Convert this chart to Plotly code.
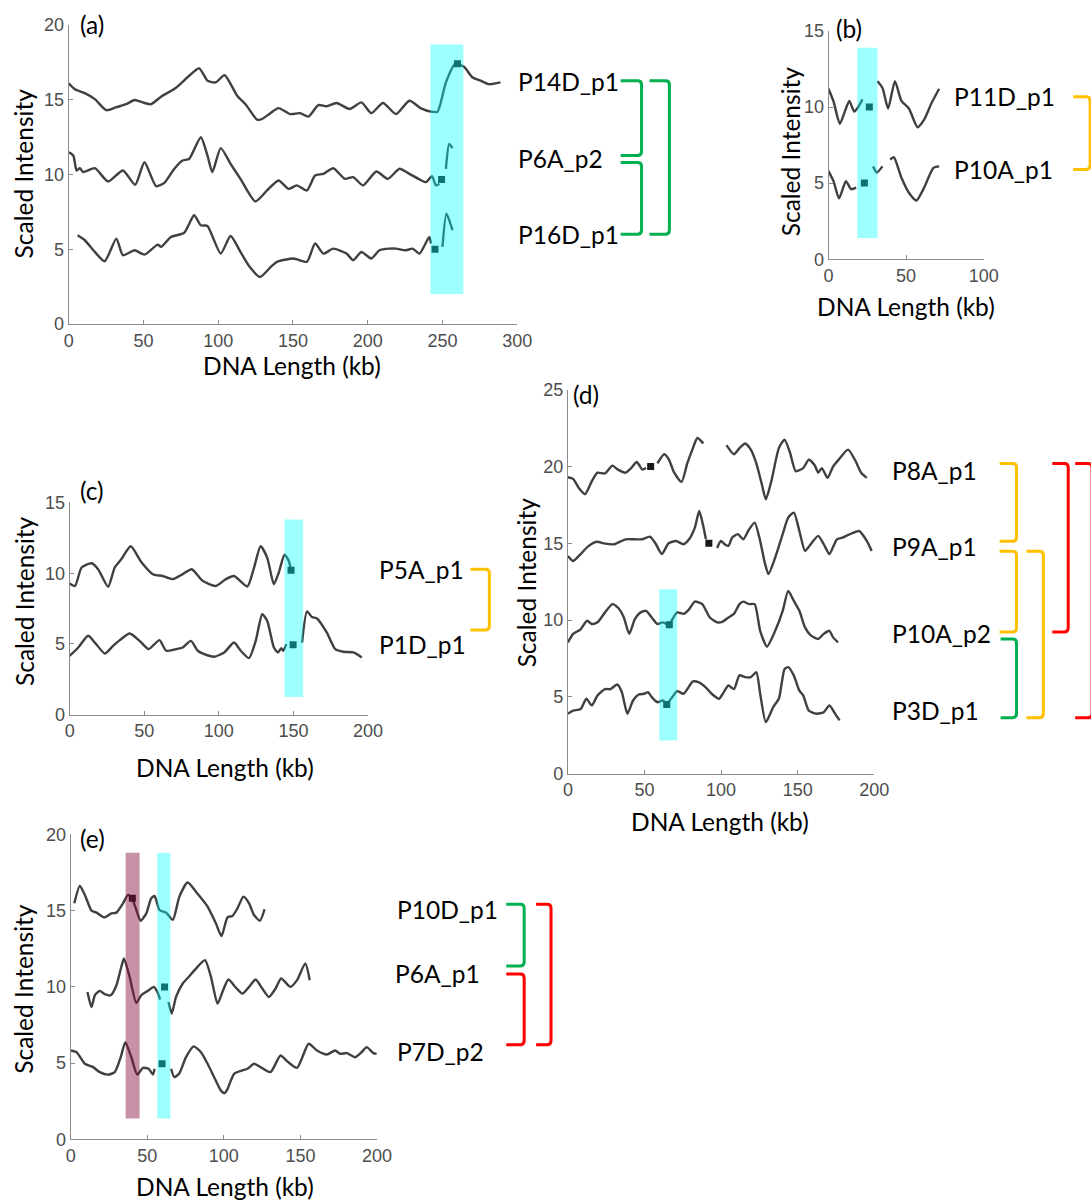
import plotly.graph_objects as go

W, H = 1091, 1202
# the photographed page comes out slightly shrunk and shifted; positions below are
# given in reference-image pixels and converted through this measured mapping
OX, SX = 3.0, 0.987
OY, SY = 8.0, 0.9865

# ------------------------------------------------------------------ data
# Panel (a)
a_x_P14D = [0, 4.2, 10.8, 17.5, 25.2, 31.9, 38.5, 44.1, 50.7, 55.1, 61.8, 71.8, 80.6, 87.3, 92.9, 98.4, 104.3,
            112.7, 118.3, 126, 129.4, 134.9, 140.4, 148.2, 154.8, 160.4, 167, 172.5, 179.2, 188, 195.8, 202.4,
            210.2, 219, 227.9, 235.7, 242.3, 246.7, 252.3, 258.5, 264.4, 270, 275.5, 281, 288.8]
a_y_P14D = [16.1, 15.7, 15.44, 15.04, 14.3, 14.5, 14.7, 14.98, 14.78, 14.7, 15.2, 15.8, 16.6, 17.1, 16.27, 16.16,
            16.64, 15.27, 14.7, 13.67, 13.71, 14.1, 14.44, 14.04, 14.1, 13.87, 14.64, 14.56, 14.78, 14.38, 14.82,
            14.1, 14.78, 14.04, 14.93, 14.42, 14.2, 14.2, 16.16, 17.4, 17.2, 16.5, 16.27, 16.04, 16.16]
a_x_P6A = [0, 3.1, 5.3, 7.5, 9.7, 17.5, 26.4, 36.3, 44.5, 50.7, 58.5, 64, 70.7, 76.2, 80.6, 88.4, 92.8, 96.1,
           101.7, 108.3, 114.9, 124.9, 132.7, 140.4, 147.1, 152.6, 159.3, 164.8, 170.4, 177, 184.7, 190.3, 196.9,
           205.8, 213.5, 221.3, 227.9, 234.6, 239, 243, 245.6, 247.9, None, 252.3, 254.5, 256.7]
a_y_P6A = [11.49, 11.27, 10.27, 10.42, 10.16, 10.42, 9.53, 10.27, 9.31, 10.82, 9.22, 9.44, 10.38, 10.93, 11.04,
           12.49, 11.27, 10.16, 11.76, 10.71, 9.71, 8.2, 8.93, 9.6, 9.04, 9.27, 8.93, 9.93, 10.04, 10.42, 9.71,
           9.82, 9.27, 10.2, 9.71, 10.38, 10.04, 9.67, 9.49, 9.89, 9.27, 9.38, None, 10.38, 12.04, 11.76]
a_x_P16D = [6, 10.8, 17.5, 24.1, 31.9, 36.3, 44.1, 50.7, 59.6, 61.8, 68.4, 77.3, 83.9, 88.4, 92.8, 101.7, 108.3,
            114.9, 120.5, 128, 136, 139.3, 150.4, 159.3, 164.8, 170.4, 177, 185.8, 190.3, 195.8, 202.4, 207.9,
            214.5, 219, 225.6, 230, 234.6, 241.2, 242.3, None, 250, 252.7, 256.7]
a_y_P16D = [5.93, 5.6, 4.82, 4.2, 5.71, 4.6, 4.93, 4.64, 5.31, 5.16, 5.82, 6.1, 7.27, 6.6, 6.56, 4.71, 5.89, 4.82,
            3.9, 3.15, 3.9, 4.16, 4.38, 4.16, 5.38, 4.71, 5.04, 4.71, 4.27, 4.82, 4.38, 4.93, 5.04, 5.04, 4.93,
            5.04, 4.71, 5.82, 5.38, None, 5.16, 7.38, 6.27]
a_mark_x = [260, 249.4, 245]
a_mark_y = [17.4, 9.67, 5.0]
a_band = [242, 264, 2.0, 18.7]

# Panel (b)
b_x_P11D = [0, 3.2, 7.3, 10.5, 13.4, 16.5, 18.5, 21.9, None, 31.6, 34.8, 38.4, 42.8, 47, 51.8, 57.4, 61.6, 66.4, 71.3]
b_y_P11D = [11.2, 10.37, 8.9, 9.7, 10.4, 9.7, 9.9, 10.5, None, 11.7, 11.25, 9.9, 11.7, 10.4, 9.9, 8.67, 9.17, 10.26, 11.2]
b_x_P10A = [0, 3.2, 6.8, 11.2, 14.6, 17.8, None, 28.7, 31.1, 34.8, None, 39.7, 42.1, 47, 51.8, 56.7, 61.6, 67.6, 71.3]
b_y_P10A = [5.79, 5.13, 4.0, 5.13, 4.6, 4.7, None, 6.1, 5.7, 6.1, None, 6.55, 6.7, 5.35, 4.37, 3.86, 4.7, 6.0, 6.1]
b_mark_x = [26.3, 23.1]
b_mark_y = [10.0, 5.0]
b_band = [18.5, 31.6, 1.4, 13.9]

# Panel (c)
c_x_P5A = [0, 3.6, 8, 14.7, 19.1, 25.8, 30.2, 34.7, 40.9, 48, 55.8, 62.4, 69.1, 75.8, 81.8, 89.1, 98, 104.7,
           110.2, 119.1, 123.6, 128, 132.4, 136.9, 140.2, 144, 146.9, 148.4]
c_y_P5A = [9.27, 9.1, 10.4, 10.7, 10.28, 9.04, 10.4, 11.0, 11.9, 10.8, 9.93, 9.8, 9.58, 9.93, 10.28, 9.46, 9.1,
           9.58, 9.8, 9.06, 10.4, 11.9, 11.1, 9.22, 10.05, 11.3, 10.87, 10.2]
c_x_P1D = [0, 5.8, 12.4, 16.9, 23.6, 29.1, 33.6, 40.2, 46.9, 52.9, 60.2, 64.7, 71.3, 75.8, 81.3, 85.8, 90.2, 96.9,
           103.6, 110.2, 114.7, 120.2, 124.7, 129.1, 132.4, 136.9, 139.6, 141.8, 143.1, 145.3, None, 155.8, 159.1,
           162.4, 165.8, 172.4, 178, 183.6, 190.2, 195.8]
c_y_P1D = [4.16, 4.75, 5.58, 5.1, 4.33, 4.87, 5.27, 5.74, 5.22, 4.64, 5.27, 4.52, 4.64, 4.75, 5.22, 4.52, 4.28,
           4.1, 4.4, 5.1, 4.52, 4.0, 5.22, 7.1, 6.64, 4.75, 4.4, 4.7, 4.52, 4.99, None, 5.1, 7.3, 6.9, 6.8, 5.8,
           4.64, 4.45, 4.4, 4.05]
c_mark_x = [148.4, 149.8]
c_mark_y = [10.2, 4.94]
c_band = [144, 156.5, 1.25, 13.8]

# Panel (d)
d_x_P8A = [0, 3.4, 7.1, 11.2, 15.6, 19.3, 24.2, 29, 32.7, 37.6, 41.3, 44.9, 48.6, 51, None, 58.4, 62.8, 65.7,
           69.4, 74.2, 77.9, 81.6, 84.5, 88.4, None, 103.5, 108.4, 112, 115.7, 119.4, 123, 126.7, 129.2, 132.8,
           137.7, 141.4, 145, 148.7, 153.6, 157.3, 161, 163.4, 165.8, 169.5, 173.1, 176.8, 182.9, 187.8, 191.4,
           195.1]
d_y_P8A = [19.3, 19.2, 18.6, 18.2, 19.05, 19.6, 19.55, 20.06, 19.8, 19.6, 19.9, 20.3, 19.8, 19.9, None, 20.2,
           20.8, 20.5, 19.6, 19.0, 20.2, 21.2, 21.86, 21.5, None, 21.4, 20.8, 21.2, 21.5, 21.1, 20.2, 18.8, 17.86,
           19.05, 21.2, 21.75, 20.9, 19.7, 19.9, 20.45, 20.1, 19.6, 19.9, 19.26, 20.0, 20.45, 21.1, 20.35, 19.6,
           19.26]
d_x_P9A = [0, 3.4, 8.3, 13.2, 18.6, 24.2, 30.3, 37.6, 43.7, 48.6, 53.5, 57.1, 61.3, 65.7, 70.6, 75.5, 79.1,
           82.8, 85.7, 88.4, 90.1, None, 97.4, 99.9, 102.3, 104.8, 107.2, 110.9, 114.5, 118.2, 121.9, 125.5,
           128.5, 130.9, 135.3, 140.2, 143.8, 147.5, 151.1, 154.8, 158.5, 163.4, 167, 170.7, 175.6, 179.2,
           184.1, 190.2, 195.1, 198.3]
d_y_P9A = [14.18, 13.85, 14.3, 14.8, 15.1, 14.98, 14.94, 15.26, 15.26, 15.26, 15.43, 15.0, 14.3, 15.0, 15.15,
           14.94, 15.26, 16.0, 17.1, 16.1, 15.26, None, 14.7, 15.15, 14.94, 14.83, 15.37, 15.6, 15.26, 15.9,
           16.35, 15.15, 13.74, 13.0, 14.07, 15.6, 16.67, 17.0, 15.8, 14.5, 14.94, 15.48, 14.94, 14.3, 15.26,
           15.37, 15.6, 15.8, 15.15, 14.5]
d_x_P10A = [0, 3.4, 8.3, 12.5, 15.6, 19.3, 24.2, 29, 32.7, 36.4, 40, 43.7, 47.4, 51, 54.7, 58.4, 62, 65.7,
            71.3, 75.5, 79.1, 82.8, 87.7, 92.6, 97.4, 101.1, 104.8, 108.4, 112, 114.5, 118.2, 121.9, 125.5,
            129.9, 135.3, 140.2, 143.8, 147.5, 151.1, 154.8, 158.5, 163.4, 167, 170.7, 173.1, 176.3]
d_y_P10A = [8.55, 9.1, 9.4, 9.96, 9.74, 9.85, 10.5, 11.04, 10.8, 10.2, 9.1, 10.06, 10.5, 10.6, 10.17, 9.74,
            9.85, 9.7, 10.5, 10.4, 10.7, 11.2, 11.04, 10.17, 9.85, 9.9, 10.17, 10.4, 11.04, 11.2, 11.04, 11.04,
            9.3, 8.27, 9.3, 10.6, 11.9, 11.25, 10.6, 9.52, 9.0, 8.77, 9.1, 9.3, 8.87, 8.55]
d_x_P3D = [0, 3.4, 8.3, 12, 15.6, 19.3, 24.2, 27.8, 32.2, 35.2, 38.8, 42.5, 46.2, 49.8, 52.3, 54.7, 58.4, 62,
           64.5, 68.1, 71.3, 75.5, 81.6, 85.2, 90.1, 93.8, 98.7, 101.1, 104.8, 108.4, 112, 115.7, 119.4, 123,
           125.5, 129.2, 134, 137.7, 141.4, 143.8, 147.5, 151.1, 153.6, 157.3, 162.2, 167, 170.7, 174.4, 177.3]
d_y_P3D = [3.9, 4.1, 4.2, 4.87, 4.44, 5.09, 5.5, 5.5, 5.8, 5.3, 3.9, 4.76, 5.15, 5.2, 5.3, 4.98, 4.65, 4.76,
           4.55, 4.98, 5.37, 5.2, 6.0, 5.95, 5.6, 5.2, 4.87, 5.2, 5.74, 5.5, 6.4, 6.28, 6.28, 6.6, 5.2, 3.35,
           4.33, 4.87, 6.8, 6.93, 6.38, 5.4, 5.09, 4.1, 3.9, 4.0, 4.44, 3.9, 3.46]
d_mark_x = [54, 92, 66.2, 64.5]
d_mark_y = [20.0, 15.0, 9.7, 4.5]
d_band = [59.6, 71.3, 2.16, 12.0]

# Panel (e)
e_x_P10D = [2.4, 6, 9.3, 13.6, 16.9, 21.9, 26.6, 29.9, 34.2, 37.4, 40, 42.9, 45.7, 49.4, 52.6, 54.8, 58, 62.3,
            66.7, 71, 76.4, 82.9, 89.4, 94.8, 98.5, 102.4, 105.6, 108.9, 112.8, 116.5, 119.7, 123.6, 126.6]
e_y_P10D = [15.48, 16.62, 16.03, 15.0, 14.87, 14.56, 14.82, 14.87, 15.48, 16.03, 15.81, 15.04, 14.34, 14.82,
            15.81, 15.96, 15.04, 14.87, 14.39, 15.92, 16.84, 16.1, 15.26, 14.17, 13.33, 14.56, 14.65, 15.15,
            15.92, 15.48, 14.71, 14.34, 15.09]
e_x_P6A = [11, 13.6, 15.8, 19, 22.3, 26.2, 29.9, 33.1, 34.8, 38.5, 42.9, 46.1, 50.4, 54.3, 56.9, 58.4, None,
           63.9, 66, 68.8, 73.2, 77.5, 81.8, 87.7, 91.6, 95.9, 99.1, 103, 107.8, 112.1, 116.5, 120.8, 125.1,
           129.4, 133.8, 137.4, 143.5, 147.8, 153.2, 156.1]
e_y_P6A = [9.67, 8.68, 9.45, 9.74, 9.52, 9.45, 10.11, 11.32, 11.86, 10.66, 8.95, 9.45, 9.74, 10.0, 9.6, 9.17,
           None, 9.01, 8.25, 9.34, 10.22, 10.7, 11.2, 11.75, 10.66, 8.9, 9.67, 10.48, 9.96, 9.56, 10.0, 10.48,
           9.89, 9.34, 9.89, 10.55, 10.0, 10.44, 11.54, 10.44]
e_x_P7D = [0, 3.9, 9.3, 14.7, 19, 24.5, 28.8, 32.7, 35.7, 39.6, 43.5, 47.2, 50.9, 53.7, 54.8, None, 65.6, 67.7,
           71, 75.3, 80.3, 85.1, 89.4, 93.7, 98.1, 100.5, 102.4, 106.7, 112.1, 115.4, 119.7, 124, 130.5, 137,
           141.3, 147.8, 155.4, 160.8, 167.3, 172.7, 176, 180.3, 185.8, 190, 193.3, 197.6, 199.8]
e_y_P7D = [5.83, 5.72, 4.96, 4.74, 4.41, 4.25, 4.41, 5.39, 6.38, 5.39, 4.25, 4.69, 4.63, 4.25, 4.63, None, 4.63,
           4.08, 4.34, 5.39, 6.1, 5.72, 4.96, 4.08, 3.2, 3.04, 3.3, 4.3, 4.52, 4.63, 4.96, 4.74, 4.41, 5.5, 5.13,
           4.69, 6.27, 5.83, 5.57, 5.83, 5.61, 5.66, 5.39, 5.72, 6.05, 5.66, 5.61]
e_mark_x = [40.3, 61.3, 59.7]
e_mark_y = [15.81, 10.0, 4.96]
e_band_maroon = [35.9, 45.0, 1.37, 18.8]
e_band_cyan = [56.5, 65.1, 1.37, 18.8]

# tick values
a_xticks = [0, 50, 100, 150, 200, 250, 300]
a_yticks = [0, 5, 10, 15, 20]
b_xticks = [0, 50, 100]
b_yticks = [0, 5, 10, 15]
c_xticks = [0, 50, 100, 150, 200]
c_yticks = [0, 5, 10, 15]
d_xticks = [0, 50, 100, 150, 200]
d_yticks = [0, 5, 10, 15, 20, 25]
e_xticks = [0, 50, 100, 150, 200]
e_yticks = [0, 5, 10, 15, 20]

# ------------------------------------------------------------------ helpers
def PX(x):
    return ((x - OX) / SX) / W


def PY(y):
    return 1 - ((y - OY) / SY) / H


LINE = dict(color="#404040", width=2.4)
MARK = dict(symbol="square", size=7, color="#1a1a1a")
CYAN = "rgba(0,255,255,0.38)"
MAROON = "rgba(130,10,60,0.45)"
TXT = "Lato"
TXT_SIZE = 24.5

fig = go.Figure()

panels = [
    ("", (67, 518, 23, 323), [0, 300], [0, 20], a_xticks, a_yticks,
     [(a_x_P14D, a_y_P14D), (a_x_P6A, a_y_P6A), (a_x_P16D, a_y_P16D)], (a_mark_x, a_mark_y),
     [(a_band, CYAN)]),
    ("2", (831, 987, 29, 258), [0, 100], [0, 15], b_xticks, b_yticks,
     [(b_x_P11D, b_y_P11D), (b_x_P10A, b_y_P10A)], (b_mark_x, b_mark_y), [(b_band, CYAN)]),
    ("3", (68, 368, 502, 715), [0, 200], [0, 15], c_xticks, c_yticks,
     [(c_x_P5A, c_y_P5A), (c_x_P1D, c_y_P1D)], (c_mark_x, c_mark_y), [(c_band, CYAN)]),
    ("4", (569, 877, 389, 774), [0, 200], [0, 25], d_xticks, d_yticks,
     [(d_x_P8A, d_y_P8A), (d_x_P9A, d_y_P9A), (d_x_P10A, d_y_P10A), (d_x_P3D, d_y_P3D)],
     (d_mark_x, d_mark_y), [(d_band, CYAN)]),
    ("5", (69, 377, 835, 1141), [0, 200], [0, 20], e_xticks, e_yticks,
     [(e_x_P10D, e_y_P10D), (e_x_P6A, e_y_P6A), (e_x_P7D, e_y_P7D)], (e_mark_x, e_mark_y),
     [(e_band_maroon, MAROON), (e_band_cyan, CYAN)]),
]

shapes = []
layout_axes = {}
for suf, (x0, x1, yt, yb), xr, yr, xt, yt_, series, (mx, my), bands in panels:
    xa, ya = "x" + suf, "y" + suf
    for sx, sy in series:
        fig.add_trace(go.Scatter(x=sx, y=sy, mode="lines", line=dict(**LINE, shape="spline", smoothing=0.6),
                                 connectgaps=False, xaxis=xa, yaxis=ya, showlegend=False, hoverinfo="skip"))
    fig.add_trace(go.Scatter(x=mx, y=my, mode="markers", marker=MARK, xaxis=xa, yaxis=ya,
                             showlegend=False, hoverinfo="skip"))
    for (bx0, bx1, by0, by1), col in bands:
        shapes.append(dict(type="rect", xref=xa, yref=ya, x0=bx0, x1=bx1, y0=by0, y1=by1,
                           fillcolor=col, line=dict(width=0), layer="above"))
    axcommon = dict(showline=True, linecolor="#8c8c8c", linewidth=1, ticks="inside", ticklen=4,
                    tickcolor="#8c8c8c", showgrid=False, zeroline=False, fixedrange=True,
                    tickfont=dict(family="Liberation Sans", size=18, color="#4d4d4d"), tickmode="array")
    layout_axes["xaxis" + suf] = dict(axcommon, domain=[PX(x0), PX(x1)], range=xr, tickvals=xt,
                                      anchor=ya)
    layout_axes["yaxis" + suf] = dict(axcommon, domain=[PY(yb), PY(yt)], range=yr, tickvals=yt_,
                                      anchor=xa)

annotations = []


def ann(text, x, y, size=TXT_SIZE, xanchor="left", angle=0):
    annotations.append(dict(text=text, x=PX(x), y=PY(y), xref="paper", yref="paper", showarrow=False,
                            xanchor=xanchor, yanchor="middle", textangle=angle,
                            font=dict(family=TXT, size=size, color="#000000")))


# axis titles
for cx, cy in [(292, 365), (909, 305), (224, 768), (722, 822), (224, 1188)]:
    ann("DNA Length (kb)", cx, cy, xanchor="center")
for cx, cy in [(22, 172), (793, 150), (22, 601), (527, 582), (22, 990)]:
    ann("Scaled Intensity", cx, cy, xanchor="center", angle=-90)
# panel letters
for t, x, y in [("(a)", 76, 23), ("(b)", 837, 27), ("(c)", 76, 490), ("(d)", 572, 394), ("(e)", 76, 839)]:
    ann(t, x, y)
# sample labels
for t, x, y in [("P14D_p1", 517, 80), ("P6A_p2", 517, 157), ("P16D_p1", 517, 233),
                ("P11D_p1", 955, 95), ("P10A_p1", 955, 168),
                ("P5A_p1", 377, 569), ("P1D_p1", 377, 645),
                ("P8A_p1", 893, 470), ("P9A_p1", 893, 546), ("P10A_p2", 893, 633), ("P3D_p1", 893, 711),
                ("P10D_p1", 395, 910), ("P6A_p1", 393, 975), ("P7D_p2", 395, 1053)]:
    ann(t, x, y)

GREEN, YELLOW, RED = "#00B050", "#FFC000", "#FF0000"


def bracket(x0, x1, yt, yb, col, r=4):
    p = (f"M {PX(x0)},{PY(yt)} L {PX(x1 - r)},{PY(yt)} Q {PX(x1)},{PY(yt)} {PX(x1)},{PY(yt + r)} "
         f"L {PX(x1)},{PY(yb - r)} Q {PX(x1)},{PY(yb)} {PX(x1 - r)},{PY(yb)} L {PX(x0)},{PY(yb)}")
    shapes.append(dict(type="path", xref="paper", yref="paper", path=p, line=dict(color=col, width=3)))


for b in [(622, 643, 79, 154, GREEN), (622, 643, 161, 233, GREEN), (651, 671, 79, 233, GREEN),
          (1077, 1094, 95, 168, YELLOW),
          (471, 490, 569, 630, YELLOW),
          (1003, 1020, 463, 541, YELLOW), (1003, 1020, 551, 632, YELLOW), (1004, 1020, 639, 718, GREEN),
          (1030, 1047, 551, 718, YELLOW), (1056, 1072, 463, 632, RED), (1079, 1096, 463, 718, RED),
          (507, 525, 905, 967, GREEN), (507, 525, 975, 1046, RED), (537, 552, 905, 1046, RED)]:
    bracket(*b)

fig.update_layout(width=W, height=H, margin=dict(l=0, r=0, t=0, b=0), paper_bgcolor="white",
                  plot_bgcolor="rgba(0,0,0,0)", shapes=shapes, annotations=annotations, **layout_axes)

fig.write_html("out.html")
